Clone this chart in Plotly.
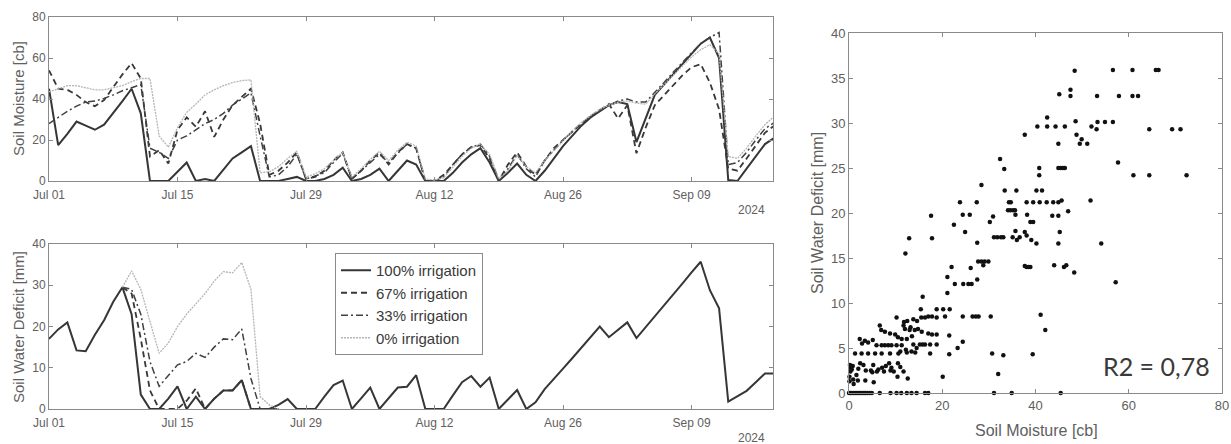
import pandas as pd
import plotly.graph_objects as go

# ---------------- data ----------------
dates = pd.date_range("2024-07-01", periods=80, freq="D")

# Soil moisture [cb] (top panel), daily Jul 01 .. Sep 18
sm_100 = [45, 17.5, 23, 29, 27, 25, 27.5, 33, 39, 45, 33, 0, 0, 0, 4.5, 9, 0, 1, 0, 5.5,
          11, 14, 17, 0, 0, 0, 1, 2, 0, 0, 1, 3, 6.5, 0, 1, 3, 6, 0, 5, 10,
          8, 0, 0, 0, 4, 9, 13, 16, 9, 0, 4, 8.5, 3, 0, 5, 11, 17, 22, 27, 31,
          34, 37, 38.5, 37.5, 19, 31, 42, 47, 52, 57.5, 62.5, 67, 70, 60, 0.5, 0, 6, 12, 18, 21]
sm_67 = [54, 45, 44.5, 42, 38.5, 36.5, 39.5, 46, 52, 57.5, 50, 12, 15, 8.5, 25, 31, 26.5, 34, 21.5, 30,
         37, 41, 45, 28, 3, 5, 9, 14, 1, 2, 5, 10, 14, 1, 5, 10, 14, 8, 14, 18,
         16, 0, 0, 3, 8, 13, 16.5, 17.5, 11, 0, 8, 14, 7, 3, 10, 16, 20, 24, 28, 31.5,
         34.5, 37.5, 30.5, 37, 13.5, 26, 37, 42, 47, 51.5, 55.5, 57, 48, 35, 6, 5, 11, 17, 23.5, 27]
sm_33 = [28, 31, 34, 36.5, 38.5, 39, 40.3, 42, 44, 45.5, 47, 16, 14, 11, 20, 22, 25, 28, 30, 33,
         37, 40, 43, 22, 2, 3, 7, 13, 1, 2.5, 4, 9, 13.5, 1, 5, 9, 13, 9, 13.5, 18,
         16, 0, 0, 2, 8, 13, 16.5, 18, 12, 0.5, 6, 13, 6, 2, 10, 15, 20, 24, 28, 31.5,
         34.5, 37, 39, 40, 38.5, 38.5, 43, 48, 53, 58, 62.5, 67, 70, 72.5, 8, 9, 14, 20, 25.5, 28.5]
sm_0 = [43.5, 45, 46.5, 46.5, 45.5, 44.5, 44.5, 45.5, 46.5, 48.5, 50, 50, 22, 16.5, 26, 33.5, 37.5, 42, 44.5, 46.5,
        48, 49, 49.3, 4, 4.5, 7, 11, 14.5, 2, 3.5, 6, 10, 14, 2, 6, 10.5, 14.5, 10, 15, 19,
        17, 1, 0.5, 1.5, 7, 12, 16, 18, 13, 1, 5, 12.5, 7, 4, 10, 15, 20, 24.5, 28.5, 32,
        35, 37, 38.5, 39, 38, 37.5, 42.5, 47, 52, 56.5, 60.5, 64, 66.5, 62, 12, 11, 16, 22, 27.5, 31.5]

# Soil water deficit [mm] (bottom panel)
swd_100 = [17, 19.3, 21, 14.2, 14, 18, 21.5, 26, 29.5, 23, 3.5, 0, 0, 2.5, 5.5, 0, 3, 0, 2.5, 4.5,
           4.5, 7, 0, 0, 0, 1, 2.4, 0, 0, 0, 3, 5.8, 6.9, 0, 2.6, 5.2, 0, 2.6, 5.2, 5.4,
           8.2, 0, 0, 0, 3.3, 6.5, 8, 5.4, 7.6, 0, 2.3, 4.6, 0, 1.6, 4.8, 7.2, 9.8, 12.3, 14.9, 17.4,
           20, 17.4, 19.2, 21, 17.2, 19.8, 22.5, 25.1, 27.8, 30.4, 33.1, 35.7, 28.8, 24.4, 1.8, 3.1, 4.4, 6.5, 8.6, 8.6]
N = None
swd_67 = [N, N, N, N, N, N, N, N, 29.5, 28, 17, 4.5, 0, 0, 0, 2, 5, 0, 2.5, 4.5,
          4.5, 7, 0, 0, 0, 0] + [N] * 54
swd_33 = [N, N, N, N, N, N, N, N, 29.5, 29, 23, 11.5, 5.5, 8, 10.7, 11.5, 13.5, 12.5, 15, 17,
          16.8, 19.4, 7.4, 0, 0, 0] + [N] * 54
swd_0 = [N, N, N, N, N, N, N, N, 29.5, 33.5, 29, 21.5, 13.5, 16, 20, 23, 25.5, 28, 31, 33.3,
         33, 35.5, 29, 3, 1, 0] + [N] * 54

series_names = ["100% irrigation", "67% irrigation", "33% irrigation", "0% irrigation"]

# Scatter: soil moisture [cb] vs soil water deficit [mm]
scatter_moisture = [
    48.4, 56.6, 60.8, 65.8, 66.4,
    45.1, 47.5, 47.5, 53.2, 57.9, 60.8, 62.0,
    42.5, 40.4, 42.5, 44.3, 46.3, 48.6, 52.0, 53.1, 53.3, 54.9, 56.6, 64.4, 69.3, 71.1,
    37.7, 48.8, 49.9, 49.5, 51.1, 44.9,
    32.4, 33.3, 40.8, 40.8, 44.9, 45.4, 45.9, 46.3, 57.7, 61.0, 64.4, 72.4,
    28.4, 33.4, 35.9, 40.2, 41.4,
    23.8, 27.4, 34.3, 34.7, 38.1, 39.5, 40.9, 42.4, 43.8, 44.9, 45.6, 51.8,
    34.1, 34.6, 35.2, 35.6, 47.0,
    17.6, 24.4, 25.9, 30.9, 35.7, 38.2, 43.6, 44.9, 30.2, 38.9, 39.5,
    22.5, 24.9, 35.7, 37.7, 45.2,
    12.9, 17.8, 31.1, 31.8, 32.6, 33.1, 35.1, 36.0, 36.6, 38.1, 39.1, 27.5, 40.2, 44.9, 54.1,
    12.1,
    27.7, 28.4, 29.1, 29.9, 28.8, 37.7, 38.1, 38.5, 38.9, 44.0, 46.1, 46.6, 48.3, 26.1, 22.0,
    21.1, 22.7, 24.5, 25.6, 26.3, 27.5, 57.2, 21.1,
    15.8, 15.4, 18.8, 20.2, 21.6,
    10.2, 11.8, 13.8, 15.5, 16.3, 17.0, 17.8, 18.8, 20.6, 24.4, 26.5, 27.2, 27.8, 30.4, 41.1, 42.1, 14.6, 12.5, 13.2, 11.7,
    6.6, 6.9, 7.7, 8.8, 9.9, 12.0, 13.0, 14.1, 14.8, 15.6, 17.0, 17.8, 18.8, 21.5, 10.5, 13.5,
    2.3, 3.4, 4.1, 5.1, 12.4, 11.3, 2.8,
    5.9, 7.0, 7.7, 8.4, 9.1, 10.2, 11.3, 13.8, 14.5, 15.2, 15.8, 16.3, 17.4, 18.8, 23.3, 24.4, 12.2, 13.4,
    1.3, 2.7, 4.1, 5.6, 7.0, 8.8, 10.6, 11.0, 12.4, 14.2, 17.4, 21.5, 30.7, 33.1, 39.4,
    0.2, 0.4, 0.6, 0.3, 0.8, 2.4, 3.1, 2.0, 5.2, 4.7, 6.3, 7.1, 7.9, 8.6, 9.1, 9.6, 10.5, 11.0,
    11.7, 12.6, 10.4, 8.9, 7.5, 6.0, 5.0, 3.6, 1.6, 0.9, 1.9, 3.5, 5.3, 32.0, 20.1, 0.1, 0.1, 1.0,
    0.0, 0.3, 0.6, 1.0, 1.3, 1.6, 2.0, 2.3, 2.6, 3.0, 3.3, 3.6, 4.0, 4.4, 4.9, 6.6, 8.9, 10.2,
    11.2, 12.4, 13.4, 14.5, 16.3, 17.0, 31.1, 34.9, 45.4,
]
scatter_deficit = [
    35.8, 35.9, 35.9, 35.9, 35.9,
    33.2, 33.7, 33.0, 33.0, 33.0, 33.0, 33.0,
    30.6, 29.6, 29.6, 29.6, 29.6, 30.2, 29.6, 29.3, 30.1, 30.1, 30.1, 29.3, 29.3, 29.3,
    28.7, 28.7, 28.2, 27.7, 27.7, 27.7,
    26.0, 24.9, 25.0, 24.2, 25.0, 25.0, 25.0, 25.0, 25.6, 24.2, 24.2, 24.2,
    23.1, 22.5, 22.5, 22.5, 22.5,
    21.2, 21.2, 21.2, 21.2, 21.2, 21.2, 21.2, 21.2, 21.2, 21.2, 21.4, 21.4,
    20.3, 20.3, 20.3, 20.3, 20.2,
    19.7, 19.8, 19.8, 19.6, 19.8, 19.8, 19.7, 19.7, 19.0, 19.0, 19.0,
    18.7, 17.9, 18.0, 17.9, 17.9,
    17.2, 17.2, 17.3, 17.3, 17.3, 17.3, 17.3, 17.0, 17.3, 17.5, 17.0, 16.7, 16.6, 16.6, 16.6,
    15.5,
    14.6, 14.6, 14.6, 14.6, 14.2, 14.1, 14.0, 14.0, 14.0, 14.2, 14.0, 14.2, 13.4, 13.9, 14.0,
    12.9, 12.1, 12.1, 12.1, 12.1, 12.6, 12.3, 11.1,
    10.7, 9.3, 9.3, 9.3, 9.3,
    8.4, 7.9, 8.2, 8.4, 8.4, 8.5, 8.5, 8.4, 8.5, 8.5, 8.5, 8.5, 8.5, 8.5, 8.7, 7.0, 8.0, 8.0, 7.3, 7.5,
    7.5, 7.0, 6.8, 6.6, 6.5, 7.1, 7.0, 7.0, 7.1, 6.8, 6.6, 6.5, 6.5, 6.4, 6.2, 6.3,
    6.0, 5.8, 5.6, 5.9, 6.0, 6.0, 5.5,
    5.3, 5.3, 5.3, 5.3, 5.3, 5.3, 5.3, 5.4, 5.0, 5.4, 5.4, 5.4, 5.4, 5.4, 5.0, 5.7, 4.8, 4.6,
    4.4, 4.4, 4.4, 4.4, 4.4, 4.4, 4.4, 4.6, 4.5, 4.5, 4.4, 4.3, 4.4, 4.2, 4.3,
    3.1, 2.8, 2.6, 2.4, 3.0, 3.3, 3.1, 2.7, 3.1, 2.5, 2.6, 2.8, 3.0, 3.3, 2.8, 2.4, 3.3, 2.9,
    2.4, 1.6, 1.8, 2.5, 2.4, 2.4, 2.3, 2.5, 2.0, 1.5, 1.4, 1.4, 1.2, 2.1, 1.8, 1.8, 1.3, 1.0,
    0.0, 0.0, 0.0, 0.0, 0.0, 0.0, 0.0, 0.0, 0.0, 0.0, 0.0, 0.0, 0.0, 0.0, 0.0, 0.0, 0.0, 0.0,
    0.0, 0.0, 0.0, 0.0, 0.0, 0.0, 0.0, 0.0, 0.0,
]

date_ticks = ["2024-07-01", "2024-07-15", "2024-07-29", "2024-08-12", "2024-08-26", "2024-09-09"]
date_tick_labels = ["Jul 01", "Jul 15", "Jul 29", "Aug 12", "Aug 26", "Sep 09"]
sm_ticks = [0, 20, 40, 60, 80]
swd_ticks = [0, 10, 20, 30, 40]
sc_x_ticks = [0, 20, 40, 60, 80]
sc_y_ticks = [0, 5, 10, 15, 20, 25, 30, 35, 40]

# ---------------- styles ----------------
line_styles = {
    "100% irrigation": dict(color="#363636", width=2.0, dash="solid"),
    "67% irrigation": dict(color="#383838", width=1.8, dash="6px,4px"),
    "33% irrigation": dict(color="#404040", width=1.5, dash="7px,3px,2px,3px"),
    "0% irrigation": dict(color="#b5b5b5", width=1.3, dash="2px,1px"),
}
FONT = "Liberation Sans, Arial, Helvetica, sans-serif"
AX = "#8a8a8a"
TXT = "#606060"

fig = go.Figure()
top = [sm_100, sm_67, sm_33, sm_0]
bot = [swd_100, swd_67, swd_33, swd_0]
for name, ys in zip(series_names, top):
    fig.add_trace(go.Scatter(x=dates, y=ys, mode="lines", name=name, line=line_styles[name],
                             showlegend=False, xaxis="x", yaxis="y", connectgaps=False))
for name, ys in zip(series_names, bot):
    fig.add_trace(go.Scatter(x=dates, y=ys, mode="lines", name=name, line=line_styles[name],
                             showlegend=True, xaxis="x2", yaxis="y2", connectgaps=False))
fig.add_trace(go.Scatter(x=scatter_moisture, y=scatter_deficit, mode="markers",
                         marker=dict(size=4.5, color="#111111"), showlegend=False,
                         xaxis="x3", yaxis="y3", cliponaxis=False))

W, H = 1231, 444
def px(x):
    return x / W
def py(y):
    return 1 - y / H

common = dict(showline=True, linecolor=AX, linewidth=1, mirror="ticks", ticks="inside",
              ticklen=4, tickcolor=AX, showgrid=False, zeroline=False, automargin=False)
date_range = ["2024-07-01", "2024-09-17 21:00"]

fig.update_layout(
    width=W, height=H, margin=dict(l=0, r=0, t=0, b=0, pad=0), autosize=False,
    paper_bgcolor="white", plot_bgcolor="white",
    font=dict(family=FONT, color=TXT, size=12),
    xaxis=dict(domain=[px(49), px(773)], anchor="y", type="date", range=date_range,
               tickvals=date_ticks, ticktext=date_tick_labels, ticklabelstandoff=3,
               tickfont=dict(size=12, color=TXT), **common),
    yaxis=dict(domain=[py(181), py(17)], anchor="x", range=[0, 80], tickvals=sm_ticks,
               tickfont=dict(size=12, color=TXT), **common),
    xaxis2=dict(domain=[px(49), px(773)], anchor="y2", type="date", range=date_range,
                tickvals=date_ticks, ticktext=date_tick_labels, ticklabelstandoff=3,
                tickfont=dict(size=12, color=TXT), **common),
    yaxis2=dict(domain=[py(409), py(244)], anchor="x2", range=[0, 40], tickvals=swd_ticks,
                tickfont=dict(size=12, color=TXT), **common),
    xaxis3=dict(domain=[px(849), px(1222)], anchor="y3", range=[0, 80], tickvals=sc_x_ticks,
                tickfont=dict(size=13, color=TXT), **common),
    yaxis3=dict(domain=[py(393), py(33)], anchor="x3", range=[0, 40], tickvals=sc_y_ticks,
                tickfont=dict(size=13, color=TXT), **common),
    legend=dict(x=px(335), y=py(253), xanchor="left", yanchor="top",
                bordercolor="#8a8a8a", borderwidth=1, bgcolor="white",
                font=dict(size=15, color="#3a3a3a", family=FONT), tracegroupgap=0),
)

annos = [
    dict(text="Soil Moisture [cb]", x=px(18), y=py(99), textangle=-90, size=15),
    dict(text="Soil Water Deficit [mm]", x=px(18), y=py(327), textangle=-90, size=15),
    dict(text="Soil Water Deficit [mm]", x=px(817), y=py(213), textangle=-90, size=16),
    dict(text="Soil Moisture [cb]", x=px(1036), y=py(430), textangle=0, size=16),
    dict(text="2024", x=px(752), y=py(210), textangle=0, size=12),
    dict(text="2024", x=px(752), y=py(438), textangle=0, size=12),
]
for a in annos:
    fig.add_annotation(text=a["text"], x=a["x"], y=a["y"], xref="paper", yref="paper",
                       xanchor="center", yanchor="middle", textangle=a["textangle"],
                       showarrow=False, font=dict(size=a["size"], color=TXT, family=FONT))
fig.add_annotation(text="R2 = 0,78", x=px(1156), y=py(366), xref="paper", yref="paper",
                   xanchor="center", yanchor="middle", showarrow=False,
                   font=dict(size=25, color="#3a3a3a", family="Lato, Open Sans, sans-serif"))

fig.write_html("out.html", config={"displayModeBar": False},
               post_script="document.body.style.margin='0px';")
